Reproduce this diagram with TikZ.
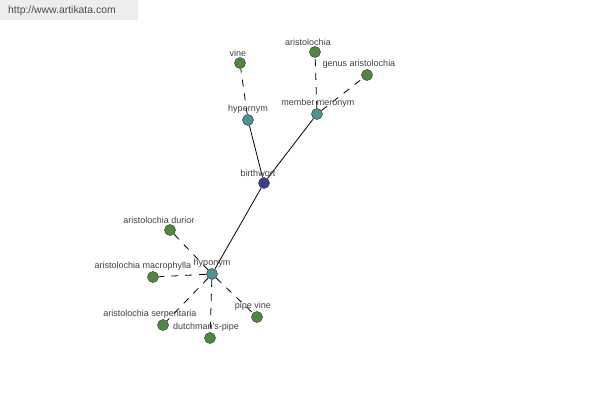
\documentclass[tikz,border=0pt]{standalone}
\usepackage{fontspec}
\setmainfont{Liberation Sans}
\begin{document}
\begin{tikzpicture}[x=1pt,y=-1pt,
  dot/.style={circle,draw=black!70,line width=0.6pt,minimum size=11pt,inner sep=0pt},
  leaf/.style={dot,fill=leafc},
  mid/.style={dot,fill=midc},
  root/.style={dot,fill=rootc},
  lab/.style={font=\fontsize{9}{10}\selectfont,text=black!75,inner sep=0pt,anchor=south},
  solidedge/.style={draw=black,line width=0.8pt},
  dashedge/.style={draw=black,line width=0.8pt,dash pattern=on 7pt off 7pt}
]
\definecolor{leafc}{HTML}{4E8A3E}
\definecolor{midc}{HTML}{4A9494}
\definecolor{rootc}{HTML}{3C3C96}
\useasboundingbox (0,0) rectangle (600,400);
\fill[black!7] (0,0) rectangle (138,20);
\node[font=\fontsize{10.4}{12}\selectfont,text=black!70,anchor=west,inner sep=0pt] (url) at (8,11) {http://www.artikata.com};
% nodes
\node[root] (bw) at (264,183) {};
\node[mid] (hyper) at (248,120) {};
\node[mid] (mero) at (317,114) {};
\node[mid] (hypo) at (212,274) {};
\node[leaf] (vine) at (240,63) {};
\node[leaf] (aris) at (315,52) {};
\node[leaf] (genus) at (367,75) {};
\node[leaf] (durior) at (170,230) {};
\node[leaf] (macro) at (153,277) {};
\node[leaf] (serp) at (163,325) {};
\node[leaf] (dutch) at (210,338) {};
\node[leaf] (pipe) at (257,317) {};
% edges
\draw[solidedge] (bw) -- (hyper);
\draw[solidedge] (bw) -- (mero);
\draw[solidedge] (bw) -- (hypo);
\draw[dashedge] (hyper) -- (vine);
\draw[dashedge] (mero) -- (aris);
\draw[dashedge] (mero) -- (genus);
\draw[dashedge] (hypo) -- (durior);
\draw[dashedge] (hypo) -- (macro);
\draw[dashedge] (hypo) -- (serp);
\draw[dashedge] (hypo) -- (dutch);
\draw[dashedge] (hypo) -- (pipe);
% labels
\node[lab] (l-bw) at (258,177) {birthwort};
\node[lab] (l-hyper) at (248,114) {hypernym};
\node[lab] (l-mero) at (318,108) {member meronym};
\node[lab] (l-hypo) at (212,268) {hyponym};
\node[lab] (l-vine) at (238,57) {vine};
\node[lab] (l-aris) at (308,46) {aristolochia};
\node[lab] (l-genus) at (359,69) {genus aristolochia};
\node[lab] (l-durior) at (159,224) {aristolochia durior};
\node[lab] (l-macro) at (143,271) {aristolochia macrophylla};
\node[lab] (l-serp) at (150,319) {aristolochia serpentaria};
\node[lab] (l-dutch) at (206,332) {dutchman's-pipe};
\node[lab] (l-pipe) at (253,311) {pipe vine};
\end{tikzpicture}
\end{document}
